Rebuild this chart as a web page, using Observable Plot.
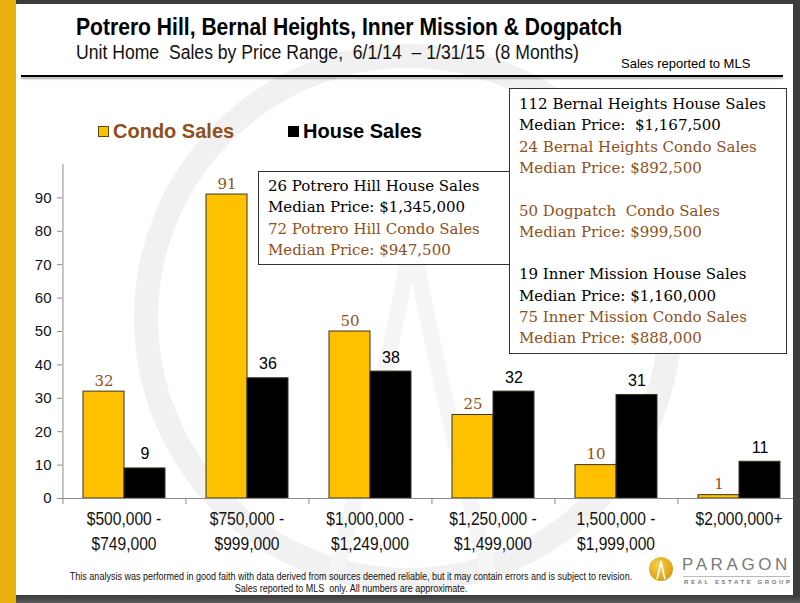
<!DOCTYPE html>
<html>
<head>
<meta charset="utf-8">
<script src="https://cdn.jsdelivr.net/npm/d3@7"></script>
<script src="https://cdn.jsdelivr.net/npm/@observablehq/plot@0.6"></script>
<style>
  html, body { margin: 0; padding: 0; background: #fff; }
  #page { position: relative; width: 800px; height: 603px; overflow: hidden; background: #fff;
          font-family: "Liberation Sans", Arial, sans-serif; }
  .abs { position: absolute; white-space: nowrap; }
  #chart { position: absolute; left: 0; top: 0; }
  .box { position: absolute; background: #fff; border: 1px solid #333; box-sizing: border-box;
         font-family: "DejaVu Serif", "Liberation Serif", serif; font-size: 15px; }
  .box div { position: absolute; left: 9px; white-space: nowrap; line-height: 1; }
</style>
</head>
<body>
<div id="page">
  <svg id="watermark" class="abs" style="left:0;top:0" width="800" height="603">
    <circle cx="408" cy="318" r="262" fill="none" stroke="#f1f1f1" stroke-width="24"></circle>
    <path d="M335,575 Q382,400 412,240 Q442,400 489,575" fill="none" stroke="#f5f5f5" stroke-width="16"></path>
  </svg>
  <div id="chart"></div>
</div>
<script>
// Price ranges (x categories) and sales counts per range
const priceRanges = [
  "$500,000 -\n$749,000",
  "$750,000 -\n$999,000",
  "$1,000,000 -\n$1,249,000",
  "$1,250,000 -\n$1,499,000",
  "1,500,000 -\n$1,999,000",
  "$2,000,000+"
];
const seriesNames = ["Condo Sales", "House Sales"];
const condoSales = [32, 91, 50, 25, 10, 1];
const houseSales = [9, 36, 38, 32, 31, 11];
const yTicks = [0, 10, 20, 30, 40, 50, 60, 70, 80, 90];

// Text notes
const titleText = "Potrero Hill, Bernal Heights, Inner Mission & Dogpatch";
const subtitleText = "Unit Home\u00a0 Sales by Price Range,\u00a0 6/1/14\u00a0 \u2013 1/31/15\u00a0 (8 Months)";
const sourceNote = "Sales reported to MLS";
const potreroNotes = [
  ["26 Potrero Hill House Sales", "house"],
  ["Median Price: $1,345,000", "house"],
  ["72 Potrero Hill Condo Sales", "condo"],
  ["Median Price: $947,500", "condo"]
];
const otherNotes = [
  ["112 Bernal Heights House Sales", "house"],
  ["Median Price:\u00a0 $1,167,500", "house"],
  ["24 Bernal Heights Condo Sales", "condo"],
  ["Median Price: $892,500", "condo"],
  ["", ""],
  ["50 Dogpatch\u00a0 Condo Sales", "condo"],
  ["Median Price: $999,500", "condo"],
  ["", ""],
  ["19 Inner Mission House Sales", "house"],
  ["Median Price: $1,160,000", "house"],
  ["75 Inner Mission Condo Sales", "condo"],
  ["Median Price: $888,000", "condo"]
];
const disclaimer = [
  "This analysis was performed in good faith with data derived from sources deemed reliable, but it may contain errors and is subject to revision.",
  "Sales reported to MLS\u00a0 only. All numbers are approximate."
];

const condoColor = "#FFC000";
const houseColor = "#000000";
const brown = "#8f4f1c";
const sansFont = "'Liberation Sans', Arial, sans-serif";
const serifFont = "'DejaVu Serif', 'Liberation Serif', serif";

const rows = priceRanges.flatMap((range, i) => [
  {range, type: seriesNames[0], value: condoSales[i]},
  {range, type: seriesNames[1], value: houseSales[i]}
]);

const W = 800, H = 603;
const mLeft = 61, mRight = 0, mTop = 164, mBottom = 105;
// width of one series band inside a facet (facet = 3 steps with half-step outer padding)
const seriesStep = (W - mLeft - mRight) / priceRanges.length / 3;

const chart = Plot.plot({
  width: W,
  height: H,
  marginTop: mTop,
  marginBottom: mBottom,
  marginLeft: mLeft,
  marginRight: mRight,
  style: {background: "transparent", overflow: "visible", fontFamily: sansFont},
  fx: {domain: priceRanges, padding: 0, label: null},
  x: {domain: seriesNames, paddingInner: 0, paddingOuter: 0.5, axis: null},
  y: {domain: [0, 100], axis: null},
  color: {domain: seriesNames, range: [condoColor, houseColor]},
  marks: [
    // y axis line (drawn in the first facet only)
    Plot.ruleX([priceRanges[0]], {fx: d => d, x: () => seriesNames[0], y1: 0, y2: 100,
      dx: -seriesStep, stroke: "#8a8a8a", strokeWidth: 1}),
    // category boundary ticks under the baseline
    Plot.ruleX(priceRanges, {fx: d => d, x: () => seriesNames[0], y1: 0, y2: 0,
      insetBottom: -6, dx: -seriesStep, stroke: "#8a8a8a", strokeWidth: 1}),
    Plot.barY(rows, {fx: "range", x: "type", y: "value", fill: "type",
      stroke: "#3b3320", strokeWidth: 1}),
    Plot.ruleY([0], {stroke: "#8a8a8a", strokeWidth: 1.2}),
    Plot.axisY({ticks: yTicks, tickSize: 5, tickPadding: 6, stroke: "#8a8a8a",
      fill: "#111", fontSize: 15, fontFamily: sansFont, label: null}),
    Plot.axisFx({anchor: "bottom", tickSize: 0, tickPadding: 9, lineHeight: 1.3,
      fontSize: 19, fontFamily: sansFont, fill: "#111", label: null}),
    Plot.text(rows.filter(d => d.type === seriesNames[0]), {fx: "range", x: "type", y: "value",
      text: "value", dy: -6, lineAnchor: "bottom", fill: brown, fontSize: 15, fontFamily: serifFont}),
    Plot.text(rows.filter(d => d.type === seriesNames[1]), {fx: "range", x: "type", y: "value",
      text: "value", dy: -9, lineAnchor: "bottom", fill: "#000", fontSize: 16, fontFamily: sansFont})
  ]
});
document.getElementById("chart").appendChild(chart);

// condensed look for the price-range labels
d3.select(chart).selectAll('g[aria-label="fx-axis tick label"] text')
  .attr("transform", function () { return (this.getAttribute("transform") || "") + " scale(0.82,1)"; });

const page = document.getElementById("page");
function add(html, css, cls = "abs") {
  const el = document.createElement("div");
  el.className = cls;
  el.style.cssText = css;
  el.innerHTML = html;
  page.appendChild(el);
  return el;
}
const esc = s => s.replace(/&/g, "&amp;").replace(/</g, "&lt;");

// frame
add("", "left:0;top:0;width:16px;height:603px;background:#e9b10f;");
add("", "left:16px;top:0;width:784px;height:4px;background:#3c3c3c;");
add("", "left:793px;top:0;width:7px;height:603px;background:#3c3c3c;");
add("", "left:16px;top:595px;width:784px;height:8px;background:linear-gradient(#3a3a3a,#5a5a5a);");

// headings
add(esc(titleText), "left:76px;top:14px;font-size:23px;font-weight:bold;color:#000;transform:scaleX(0.917);transform-origin:0 0;");
add(esc(subtitleText), "left:76px;top:41px;font-size:20px;color:#111;transform:scaleX(0.88);transform-origin:0 0;");
add(esc(sourceNote), "left:621px;top:56px;font-size:13px;color:#000;");
add("", "left:21px;top:75px;width:762px;height:2px;background:#000;box-shadow:0 2px 2px rgba(0,0,0,0.35);");

// legend
add("", `left:98px;top:126px;width:11px;height:11px;background:${condoColor};border:1px solid #5a4a1a;box-sizing:border-box;`);
add(esc(seriesNames[0]), `left:113px;top:120px;font-size:20px;font-weight:bold;color:${brown};`);
add("", "left:288px;top:126px;width:11px;height:11px;background:#000;");
add(esc(seriesNames[1]), "left:303px;top:120px;font-size:20px;font-weight:bold;color:#000;");

// note boxes
function noteBox(lines, css, firstTop, lineGap) {
  const box = add("", css, "box");
  lines.forEach(([t, kind], i) => {
    if (!t) return;
    const d = document.createElement("div");
    d.textContent = t;
    d.style.top = (firstTop + i * lineGap) + "px";
    d.style.color = kind === "condo" ? brown : "#000";
    box.appendChild(d);
  });
}
noteBox(potreroNotes, "left:258px;top:171px;width:253px;height:94px;", 7, 21.3);
noteBox(otherNotes, "left:509px;top:88px;width:278px;height:266px;", 8, 21.3);

// disclaimer
add(esc(disclaimer[0]), "left:0;width:702px;text-align:center;top:571px;font-size:10px;line-height:12px;color:#111;transform:scaleX(0.9);transform-origin:351px 0;");
add(esc(disclaimer[1]), "left:0;width:702px;text-align:center;top:583px;font-size:10px;line-height:12px;color:#111;transform:scaleX(0.9);transform-origin:351px 0;");

// logo
add(`<svg width="26" height="26" viewBox="0 0 26 26">
  <defs><radialGradient id="lg" cx="0.4" cy="0.35" r="0.7"><stop offset="0" stop-color="#f8d04a"/><stop offset="1" stop-color="#d99a0c"/></radialGradient></defs>
  <circle cx="13" cy="13" r="12" fill="url(#lg)"/>
  <path d="M9,23 Q11.5,14 13,5 Q14.5,14 17,23" fill="none" stroke="#fff" stroke-width="1.6"/>
</svg>`, "left:648px;top:556px;");
add("PARAGON", "left:682px;top:555px;font-size:17px;letter-spacing:3.6px;color:#7a7a7a;");
add("", "left:683px;top:576px;width:107px;height:1px;background:#bbb;");
add("REAL ESTATE GROUP", "left:684px;top:579px;font-size:6px;letter-spacing:2.6px;color:#777;font-weight:bold;");
</script>
</body>
</html>
